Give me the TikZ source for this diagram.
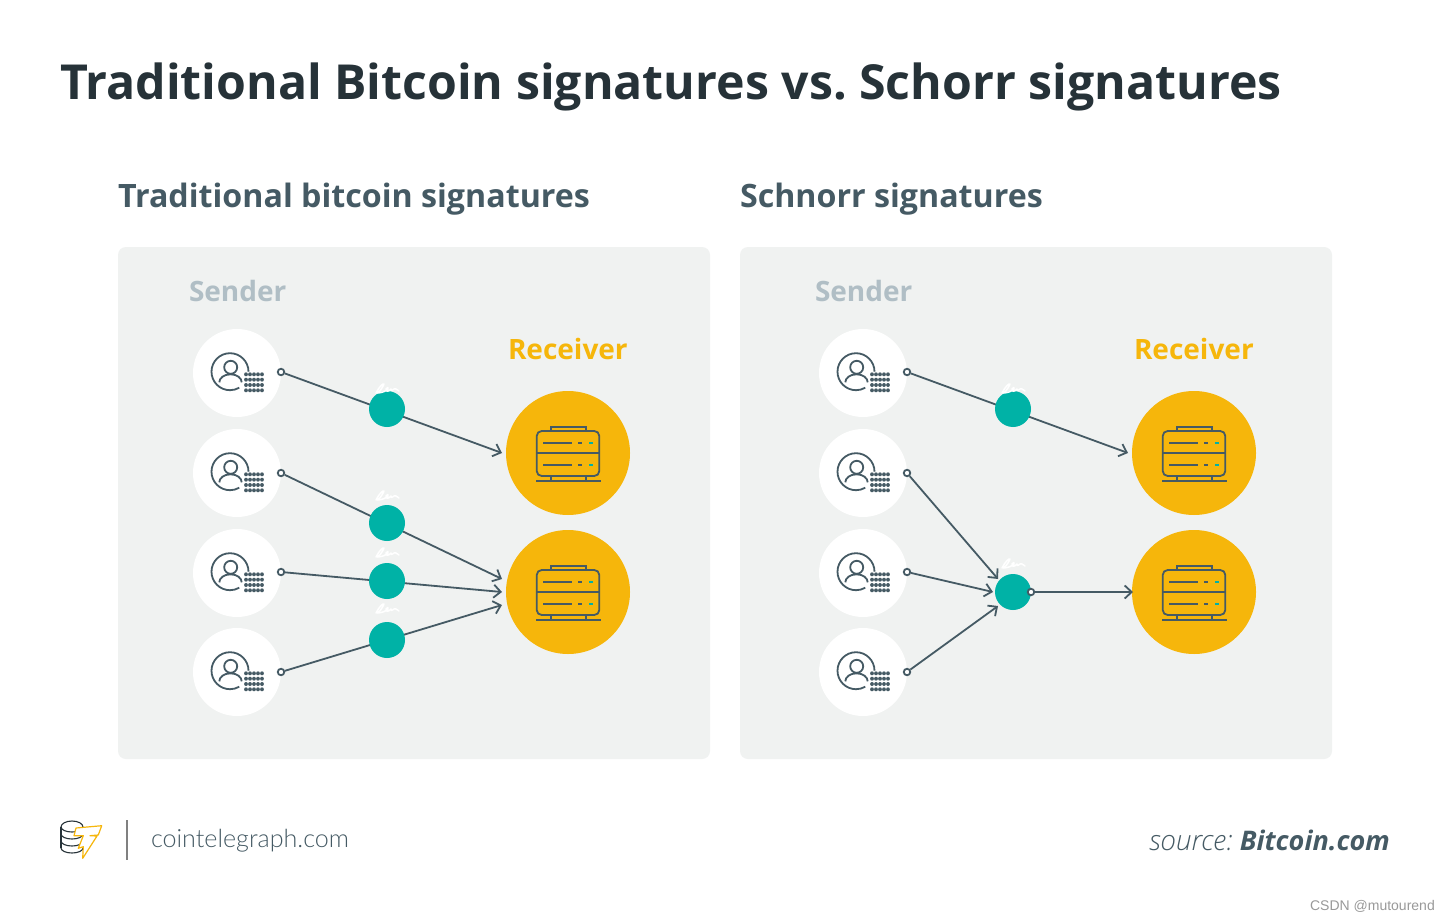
\documentclass[tikz,border=0pt]{standalone}
\usepackage{fontspec}
\setmainfont{Open Sans}
\newfontfamily\lightf{Lato Light}
\newfontfamily\srcf{Open Sans Light Italic}
\newfontfamily\wmf{Liberation Sans}
\usetikzlibrary{arrows.meta}
\definecolor{inkdark}{HTML}{263238}
\definecolor{ink}{HTML}{455A64}
\definecolor{panelc}{HTML}{F0F2F1}
\definecolor{sendc}{HTML}{B0BEC5}
\definecolor{yel}{HTML}{F6B60B}
\definecolor{teal}{HTML}{00B2A6}
\frenchspacing
\tikzset{
  txt/.style={anchor=base west,inner sep=0pt,outer sep=0pt},
  panel/.style={fill=panelc,draw=none,rounded corners=8pt},
  sendnode/.style={circle,fill=white,minimum size=88pt,inner sep=0pt},
  recvnode/.style={circle,fill=yel,minimum size=124pt,inner sep=0pt},
  signode/.style={circle,fill=teal,minimum size=36pt,inner sep=0pt},
  ring/.style={circle,draw=ink,fill=white,line width=1.8pt,minimum size=6.5pt,inner sep=0pt},
  conn/.style={draw=ink,line width=1.8pt,-{Straight Barb[length=7pt,width=13pt,line width=1.8pt]}},
  person/.pic={
    \draw[ink,line width=1.8pt] (11.5,-1.3) arc[start angle=0,end angle=300,radius=18.5pt];
    \draw[ink,line width=1.8pt] (-6.3,-5.7) circle[radius=6.5pt];
    \draw[ink,line width=1.8pt] (-17.7,9.3) arc[start angle=180,end angle=0,x radius=11.2pt,y radius=8pt];
    \foreach \yy in {1.3,6.7,12,17.3}
      \foreach \xx in {9,13,17,21,25}
        \fill[ink] (\xx,\yy) circle[x radius=1.9pt,y radius=2pt];
  },
  server/.pic={
    \draw[ink,line width=1.8pt,rounded corners=5pt] (-31.3,-22) rectangle (31.3,23);
    \draw[ink,line width=1.8pt] (-31.3,0.3) -- (31.3,0.3);
    \draw[ink,line width=1.8pt] (-17,-22) -- (-17,-26.3) -- (17.7,-26.3) -- (17.7,-22);
    \draw[ink,line width=1.8pt] (-17,23) -- (-17,27.7) (17.7,23) -- (17.7,27.7);
    \draw[ink,line width=1.8pt] (-32,27.7) -- (32.7,27.7);
    \foreach \yy in {-10.3,12}{
      \draw[ink,line width=1.8pt] (-24.7,\yy) -- (3.7,\yy);
      \draw[ink,line width=1.8pt] (10,\yy) -- (14,\yy);
      \draw[teal,line width=1.8pt] (21,\yy) -- (25.3,\yy);
    }
  },
  scribble/.pic={
    \draw[white,line width=1.5pt,line cap=round,line join=round]
      (-11,9) .. controls (-8,3) and (-4,-1) .. (-3,0) .. controls (-4,3) and (-8,9) .. (-10,9)
      .. controls (-5,9) and (-1,7) .. (1,5) .. controls (2,3) and (0,3) .. (-1,5)
      .. controls (-2,8) and (2,8) .. (4,5) .. controls (4,7) and (5,7) .. (7,5)
      .. controls (8,4) and (9,5) .. (12,7);
  },
}
\begin{document}
\begin{tikzpicture}[x=1pt,y=-1pt]
\useasboundingbox (0,0) rectangle (1450,920);
\fill[white] (0,0) rectangle (1450,920);

\node[txt,text=inkdark,font=\fontsize{48.25}{48}\selectfont\bfseries] (title) at (60,99.5) {Traditional Bitcoin signatures vs. Schorr signatures};
\node[txt,text=ink,font=\fontsize{32.2}{33}\selectfont\bfseries] (subl) at (118,207.6) {Traditional bitcoin signatures};
\node[txt,text=ink,font=\fontsize{32.2}{33}\selectfont\bfseries] (subr) at (740,207.6) {Schnorr signatures};

\fill[panel] (118,247) rectangle (710,759);
\fill[panel] (740,247) rectangle (1332,759);

% ---------- left panel
\node[txt,text=sendc,font=\fontsize{28}{28}\selectfont\bfseries] (sendl) at (189,301) {Sender};
\node[txt,text=yel,font=\fontsize{28}{28}\selectfont\bfseries] (recvl) at (508,359) {Receiver};
\foreach \n/\y in {1/373,2/473,3/573,4/672}{
  \node[sendnode] (la\n) at (237,\y) {};
  \pic at (237,\y) {person};
}
\node[recvnode] (lr1) at (568,453) {};
\node[recvnode] (lr2) at (568,592) {};
\pic at (568,453) {server};
\pic at (568,592) {server};
\node[ring] (ls1) at (281,372) {};
\node[ring] (ls2) at (281,473) {};
\node[ring] (ls3) at (281,572) {};
\node[ring] (ls4) at (281,672) {};
\coordinate (le1) at (502,453);
\coordinate (le2) at (502,579);
\coordinate (le3) at (502,592);
\coordinate (le4) at (502,605);
\draw[conn] (ls1) -- (le1);
\draw[conn] (ls2) -- (le2);
\draw[conn] (ls3) -- (le3);
\draw[conn] (ls4) -- (le4);
\node[signode] (lk1) at (387,409) {};
\node[signode] (lk2) at (387,523) {};
\node[signode] (lk3) at (387,581) {};
\node[signode] (lk4) at (387,640) {};
\pic at (387,384) {scribble};
\pic at (387,491) {scribble};
\pic at (387,548) {scribble};
\pic at (387,604) {scribble};

% ---------- right panel
\node[txt,text=sendc,font=\fontsize{28}{28}\selectfont\bfseries] (sendr) at (815,301) {Sender};
\node[txt,text=yel,font=\fontsize{28}{28}\selectfont\bfseries] (recvr) at (1134,359) {Receiver};
\foreach \n/\y in {1/373,2/473,3/573,4/672}{
  \node[sendnode] (ra\n) at (863,\y) {};
  \pic at (863,\y) {person};
}
\node[recvnode] (rr1) at (1194,453) {};
\node[recvnode] (rr2) at (1194,592) {};
\pic at (1194,453) {server};
\pic at (1194,592) {server};
\node[ring] (rs1) at (907,372) {};
\node[ring] (rs2) at (907,473) {};
\node[ring] (rs3) at (907,572) {};
\node[ring] (rs4) at (907,672) {};
\coordinate (re1) at (1128,453);
\coordinate (re2) at (998,579);
\coordinate (re3) at (993,592);
\coordinate (re4) at (998,606);
\coordinate (re5) at (1133,592);
\draw[conn] (rs1) -- (re1);
\draw[conn] (rs2) -- (re2);
\draw[conn] (rs3) -- (re3);
\draw[conn] (rs4) -- (re4);
\node[signode] (rk1) at (1013,409) {};
\node[signode] (rk2) at (1013,592) {};
\node[ring] (rout) at (1031,592) {};
\draw[conn] (rout) -- (re5);
\pic at (1013,384) {scribble};
\pic at (1013,559) {scribble};

% ---------- footer
\foreach \yy in {827,834,841,848}{
  \draw[inkdark,line width=1.1pt] (61,\yy) arc[start angle=180,end angle=360,x radius=11pt,y radius=5pt];
}
\draw[inkdark,line width=1.1pt] (61,827) arc[start angle=180,end angle=0,x radius=11pt,y radius=6pt];
\draw[inkdark,line width=1.1pt] (61,827) -- (61,848);
\draw[yel,line width=1.2pt,line join=round,fill=white]
  (76,828) -- (101.7,825.7) -- (98.3,835) -- (90,835.7) -- (97,836) -- (82.7,858.3) -- (83.3,846.7) -- (78.3,848.3) -- (83.3,835.7) -- (74,835.7) -- cycle;
\draw[gray,line width=1.6pt] (127,820) -- (127,860);
\node[txt,text=ink,font=\fontsize{25.1}{25}\selectfont\lightf] (site) at (151,847) {cointelegraph.com};
\node[anchor=base east,inner sep=0pt,text=ink,font=\fontsize{28}{28}\selectfont\srcf] (srca) at (1233,850) {source:};
\node[anchor=base east,inner sep=0pt,text=ink,font=\fontsize{27}{27}\selectfont\itshape\bfseries] (srcb) at (1390,850) {Bitcoin.com};
\node[anchor=base east,inner sep=0pt,text=gray!80,font=\fontsize{14}{14}\selectfont\wmf] (wm) at (1435,910) {CSDN @mutourend};
\end{tikzpicture}
\end{document}
